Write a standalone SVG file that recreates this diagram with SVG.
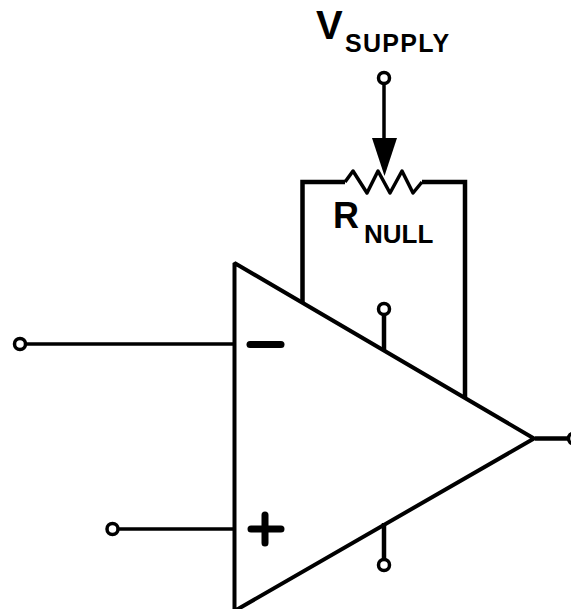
<svg xmlns="http://www.w3.org/2000/svg" width="571" height="609" viewBox="0 0 571 609">
<style>
.w{fill:none;stroke:#000;stroke-linecap:butt;stroke-linejoin:miter}
.t{stroke-width:3.500}.h{stroke-width:4.500}
.r{fill:none;stroke:#000;stroke-width:3.500;stroke-linejoin:round}
.p{fill:#fff;stroke:#000;stroke-width:3.500}
.s{fill:none;stroke:#000;stroke-width:7;stroke-linecap:round}
text{font-family:"Liberation Sans",Arial,sans-serif;font-weight:bold;fill:#000}
</style>
<rect width="571" height="609" fill="#fff"/>
<g id="connectors">
<path class="w t" d="M25 344H234"/>
<path class="w t" d="M118 529H234"/>
<path class="w t" d="M384 84V140"/>
<path class="w h" d="M302.500 302V182H345M422 182H465V397"/>
<path class="r" d="M345 182L353 171L367 193L378 171L390 193L402 171L413 193L422 182"/>
<path class="w h" d="M384 314V350"/>
<path class="w h" d="M384 523V560"/>
<path class="w h" d="M535 438.500H571"/>
<polygon points="372,138 397,138 384.500,176" fill="#000"/>
</g>
<g id="opamp">
<polygon class="w" points="234.500,263 534,438.500 234.500,611" style="stroke-width:4;stroke-linejoin:bevel"/>
<path class="s" d="M250 344.500H281"/>
<path class="s" d="M251 529H281M265 515V543"/>
</g>
<g id="pin-inverting"><circle class="p" cx="20" cy="344" r="5.500"/></g>
<g id="pin-noninverting"><circle class="p" cx="112.500" cy="529" r="5.500"/></g>
<g id="pin-vsupply"><circle class="p" cx="384" cy="78" r="5.500"/></g>
<g id="pin-top"><circle class="p" cx="384" cy="309" r="5.500"/></g>
<g id="pin-bottom"><circle class="p" cx="384" cy="565" r="5.500"/></g>
<g id="pin-output"><circle class="p" cx="574" cy="438.500" r="5.500"/></g>
<g id="label-vsupply"><text x="316" y="39" font-size="40">V</text><text x="345" y="52" font-size="25" letter-spacing="1.300">SUPPLY</text></g>
<g id="label-rnull"><text x="333" y="228" font-size="36">R</text><text x="364" y="243" font-size="26">NULL</text></g>
</svg>
